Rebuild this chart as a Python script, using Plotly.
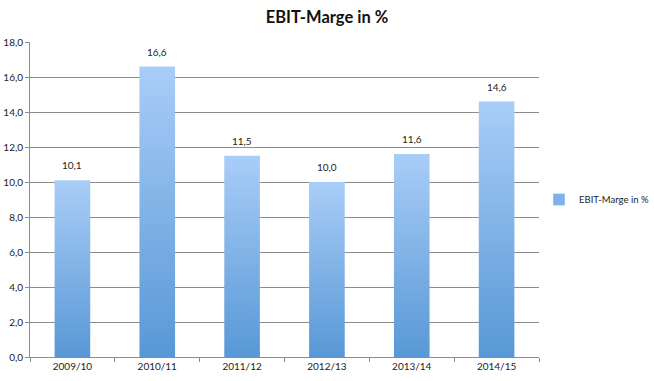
import plotly.graph_objects as go

categories = ["2009/10", "2010/11", "2011/12", "2012/13", "2013/14", "2014/15"]
values = [10.1, 16.6, 11.5, 10.0, 11.6, 14.6]
series_name = "EBIT-Marge in %"
y_ticks = [0, 2, 4, 6, 8, 10, 12, 14, 16, 18]

BAR_HALF = 0.21
DARK = "#5898d6"
LIGHT = "#a9cdf7"
FONT = "Lato, 'Open Sans', sans-serif"

fig = go.Figure()
for i, v in enumerate(values):
    fig.add_trace(go.Scatter(
        x=[i - BAR_HALF, i + BAR_HALF, i + BAR_HALF, i - BAR_HALF, i - BAR_HALF],
        y=[0, 0, v, v, 0],
        mode="lines", fill="toself", line=dict(width=0),
        fillgradient=dict(type="vertical", colorscale=[[0, DARK], [1, LIGHT]]),
        showlegend=False, hoverinfo="skip",
    ))

for i, v in enumerate(values):
    fig.add_annotation(x=i, y=v, text=f"{v:.1f}".replace(".", ","),
                       showarrow=False, yanchor="bottom", yshift=7,
                       font=dict(size=10, color="#222", family=FONT))

# legend entry
fig.add_trace(go.Bar(x=[None], y=[None], name=series_name,
                     marker=dict(color="#7fb2ea"), showlegend=True))

fig.update_layout(
    width=654, height=381,
    margin=dict(l=30, r=108, t=42, b=24),
    paper_bgcolor="white", plot_bgcolor="white",
    separators=",.",
    title=dict(text="<b>EBIT-Marge in %</b>", x=0.5, xref="container", y=0.955, yanchor="middle",
               font=dict(size=16.5, family=FONT, color="#111")),
    legend=dict(x=1.0, y=0.5, xref="container", xanchor="right", yanchor="middle",
                font=dict(size=9.5, family=FONT, color="#222"), itemwidth=30),
    xaxis=dict(range=[-0.5, 5.5], tickmode="array", automargin=False,
               tickvals=list(range(len(categories))), ticktext=categories,
               ticks="", showgrid=False, zeroline=False,
               showline=True, linecolor="#8c8c8c", linewidth=1,
               tickfont=dict(size=10, family=FONT, color="#222"),
               minor=dict(tickmode="linear", tick0=0.5, dtick=1, ticks="outside",
                          ticklen=4, tickcolor="#8c8c8c", showgrid=False)),
    yaxis=dict(range=[0, 18], tickmode="array", tickvals=y_ticks, automargin=False,
               tickformat=".1f", showgrid=True, gridcolor="#8c8c8c", gridwidth=1,
               zeroline=False, showline=True, linecolor="#8c8c8c", linewidth=1,
               ticks="outside", ticklen=4, tickcolor="#8c8c8c",
               tickfont=dict(size=10, family=FONT, color="#222")),
)

fig.write_html("out.html", config={"displayModeBar": False},
               post_script="document.body.style.margin='0';document.body.style.overflow='hidden';")
